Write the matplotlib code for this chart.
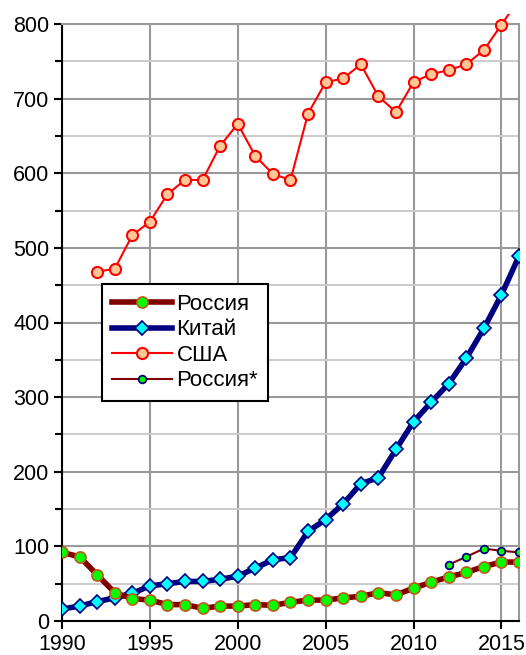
import matplotlib
matplotlib.use("Agg")
import matplotlib.pyplot as plt
from matplotlib.ticker import MultipleLocator
from matplotlib.patches import Rectangle

plt.rcParams['font.family'] = ['Liberation Sans', 'DejaVu Sans']

years = list(range(1990, 2017))
russia = [92, 86, 62, 38, 30, 28, 22, 22, 17, 20, 20, 22, 21, 25, 28, 28,
          31, 33, 38, 35, 44, 52, 59, 65, 73, 79, 79]
china = [16, 20, 26, 31, 37, 47, 50, 53, 53, 56, 60, 71, 82, 85, 120, 136,
         157, 184, 192, 230, 267, 293, 318, 352, 392, 437, 489]
usa_years = list(range(1992, 2017))
usa = [468, 472, 517, 535, 572, 591, 591, 637, 666, 623, 599, 591, 680, 722,
       727, 746, 703, 682, 722, 733, 738, 746, 765, 799, 833]
russia2_years = [2012, 2013, 2014, 2015, 2016]
russia2 = [75.5, 86, 97, 94, 92]

fig = plt.figure(figsize=(5.26, 6.55), dpi=100)
ax = fig.add_axes([62 / 526, 1 - 621 / 655, 457 / 526, 597 / 655])

ax.set_xlim(1990, 2016)
ax.set_ylim(0, 800)

# grid
ax.yaxis.set_major_locator(MultipleLocator(100))
ax.yaxis.set_minor_locator(MultipleLocator(50))
ax.xaxis.set_major_locator(MultipleLocator(5))
ax.grid(which='major', axis='both', color='#999999', linewidth=1.5, zorder=0)
ax.grid(which='minor', axis='y', color='#cccccc', linewidth=1.5, zorder=0)
ax.set_axisbelow(True)

for s in ['top', 'right']:
    ax.spines[s].set_color('#999999')
    ax.spines[s].set_linewidth(1.5)
for s in ['left', 'bottom']:
    ax.spines[s].set_color('black')
    ax.spines[s].set_linewidth(1.5)

ax.tick_params(axis='both', which='major', direction='out', length=6,
               width=1.5, labelsize=15.5, pad=3, colors='black')
ax.tick_params(axis='y', which='minor', direction='out', length=5, width=1.5)

l_us, = ax.plot(usa_years, usa, color='#ff0000', linewidth=1.5, marker='o',
                markersize=8, markerfacecolor='#ffc896',
                markeredgecolor='#ff0000', markeredgewidth=1.5,
                label='США', zorder=3)
clip = Rectangle((0, 0), 1, 1.017, transform=ax.transAxes)
l_us.set_clip_path(clip)

l_cn, = ax.plot(years, china, color='#000080', linewidth=4, marker='D',
                markersize=7, markerfacecolor='#00ffff',
                markeredgecolor='#000080', markeredgewidth=1.2,
                label='Китай', zorder=4)
l_ru, = ax.plot(years, russia, color='#800000', linewidth=4, marker='o',
                markersize=8, markerfacecolor='#00ff00',
                markeredgecolor='#c0581a', markeredgewidth=1.2,
                label='Россия', zorder=5)
l_ru2, = ax.plot(russia2_years, russia2, color='#800000', linewidth=1.5,
                 marker='o', markersize=5.5, markerfacecolor='#00ff00',
                 markeredgecolor='#000080', markeredgewidth=1.3,
                 label='Россия*', zorder=5)

leg = ax.legend(handles=[l_ru, l_cn, l_us, l_ru2], loc='upper left',
                bbox_to_anchor=((102 - 62) / 457, (621 - 284) / 597),
                borderaxespad=0, fontsize=16, frameon=True, fancybox=False,
                framealpha=1, edgecolor='black', handlelength=2.7,
                handletextpad=0.2, labelspacing=0.2, borderpad=0.45)
leg.get_frame().set_linewidth(1.5)

fig.savefig('out.png', dpi=100)
